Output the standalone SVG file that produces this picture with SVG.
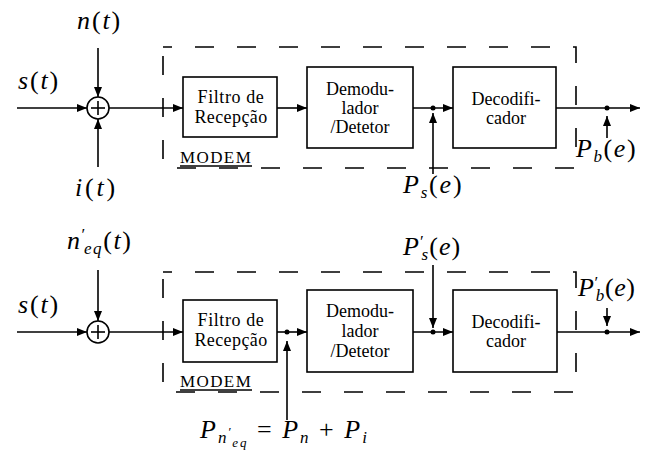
<svg xmlns="http://www.w3.org/2000/svg" width="645" height="454" viewBox="0 0 645 454" font-family="Liberation Serif, serif">
<style>
.bg{fill:#fff}
.box{fill:none;stroke:#000;stroke-width:1.6}
.dash{fill:none;stroke:#000;stroke-width:1.6;stroke-dasharray:19 23;stroke-dashoffset:10}
.ln{fill:none;stroke:#000;stroke-width:1.6}
.arr{fill:none;stroke:#000;stroke-width:1.6;marker-end:url(#ah)}
.dot{fill:#000}
.t{font-size:18px;fill:#000;text-anchor:middle}
.mdm{font-size:17px;fill:#000}
.m{font-size:26px;font-style:italic;fill:#000}
.u{font-style:normal}
.s{font-size:17px}
.ss{font-size:13px}
</style>
<defs>
<marker id="ah" markerUnits="userSpaceOnUse" markerWidth="10" markerHeight="8" refX="10" refY="4" orient="auto">
<path d="M0,0 L10,4 L0,8 z" fill="#000"/>
</marker>
</defs>
<rect class="bg" x="0" y="0" width="645" height="454"/>

<!-- ===== Top diagram ===== -->
<g id="modem1">
<rect class="dash" x="163" y="47" width="413" height="121"/>
<text class="mdm" style="font-family:'Liberation Serif',serif" x="180" y="163" letter-spacing="1.4">MODEM</text>
<line class="ln" x1="180" y1="166" x2="252" y2="166" stroke-width="1.3"/>
</g>
<g id="sum1">
<circle class="box" cx="98" cy="108" r="11"/>
<line class="ln" x1="91" y1="108" x2="105" y2="108"/>
<line class="ln" x1="98" y1="101" x2="98" y2="115"/>
</g>
<g id="filtro1">
<rect class="box" x="183" y="77" width="94" height="60"/>
<text class="t" style="font-family:'Liberation Serif',serif" x="231" y="103" letter-spacing="0.6">Filtro de</text>
<text class="t" style="font-family:'Liberation Serif',serif" x="231" y="123" letter-spacing="0.4">Recepção</text>
</g>
<g id="demod1">
<rect class="box" x="307" y="67" width="106" height="81"/>
<text class="t" style="font-family:'Liberation Serif',serif" x="360" y="95">Demodu-</text>
<text class="t" style="font-family:'Liberation Serif',serif" x="360" y="114">lador</text>
<text class="t" style="font-family:'Liberation Serif',serif" x="360" y="133">/Detetor</text>
</g>
<g id="decod1">
<rect class="box" x="453" y="67" width="103" height="81"/>
<text class="t" style="font-family:'Liberation Serif',serif" x="506" y="105">Decodifi-</text>
<text class="t" style="font-family:'Liberation Serif',serif" x="506" y="124">cador</text>
</g>
<g id="label-s1"><text class="m" style="font-family:'Liberation Serif',serif" x="18" y="89" letter-spacing="1.8">s<tspan class="u">(</tspan>t<tspan class="u">)</tspan></text></g>
<g id="label-n1"><text class="m" style="font-family:'Liberation Serif',serif" x="77" y="29" letter-spacing="1.9">n<tspan class="u">(</tspan>t<tspan class="u">)</tspan></text></g>
<g id="label-i1"><text class="m" style="font-family:'Liberation Serif',serif" x="75" y="196" letter-spacing="2.8">i<tspan class="u">(</tspan>t<tspan class="u">)</tspan></text></g>
<g id="label-ps1"><text class="m" style="font-family:'Liberation Serif',serif" x="403" y="193" letter-spacing="1.8">P<tspan class="s" dy="5">s</tspan><tspan class="u" dy="-5">(</tspan>e<tspan class="u">)</tspan></text></g>
<g id="label-pb1"><text class="m" style="font-family:'Liberation Serif',serif" x="576" y="157" letter-spacing="1.6">P<tspan class="s" dy="5">b</tspan><tspan class="u" dy="-5">(</tspan>e<tspan class="u">)</tspan></text></g>

<!-- ===== Bottom diagram ===== -->
<g id="modem2">
<rect class="dash" x="163" y="272" width="413" height="120"/>
<text class="mdm" style="font-family:'Liberation Serif',serif" x="180" y="387" letter-spacing="1.4">MODEM</text>
<line class="ln" x1="180" y1="390" x2="252" y2="390" stroke-width="1.3"/>
</g>
<g id="sum2">
<circle class="box" cx="98" cy="332" r="11"/>
<line class="ln" x1="91" y1="332" x2="105" y2="332"/>
<line class="ln" x1="98" y1="325" x2="98" y2="339"/>
</g>
<g id="filtro2">
<rect class="box" x="183" y="300" width="94" height="62"/>
<text class="t" style="font-family:'Liberation Serif',serif" x="231" y="326" letter-spacing="0.6">Filtro de</text>
<text class="t" style="font-family:'Liberation Serif',serif" x="231" y="346" letter-spacing="0.4">Recepção</text>
</g>
<g id="demod2">
<rect class="box" x="307" y="290" width="106" height="82"/>
<text class="t" style="font-family:'Liberation Serif',serif" x="360" y="317">Demodu-</text>
<text class="t" style="font-family:'Liberation Serif',serif" x="360" y="337">lador</text>
<text class="t" style="font-family:'Liberation Serif',serif" x="360" y="357">/Detetor</text>
</g>
<g id="decod2">
<rect class="box" x="453" y="290" width="104" height="82"/>
<text class="t" style="font-family:'Liberation Serif',serif" x="506" y="328">Decodifi-</text>
<text class="t" style="font-family:'Liberation Serif',serif" x="506" y="347">cador</text>
</g>
<g id="label-s2"><text class="m" style="font-family:'Liberation Serif',serif" x="18" y="313" letter-spacing="1.8">s<tspan class="u">(</tspan>t<tspan class="u">)</tspan></text></g>
<g id="label-neq"><text class="m" style="font-family:'Liberation Serif',serif" x="67" y="249" letter-spacing="1.6">n<tspan class="s u" dy="-9">′</tspan><tspan class="s" dx="-3" dy="14">eq</tspan><tspan class="u" dy="-5">(</tspan>t<tspan class="u">)</tspan></text></g>
<g id="label-ps2"><text class="m" style="font-family:'Liberation Serif',serif" x="403" y="255" letter-spacing="1">P<tspan class="s u" dy="-8">′</tspan><tspan class="s" dx="-3" dy="13">s</tspan><tspan class="u" dy="-5">(</tspan>e<tspan class="u">)</tspan></text></g>
<g id="label-pb2"><text class="m" style="font-family:'Liberation Serif',serif" x="578" y="296" letter-spacing="0.6">P<tspan class="s u" dy="-8">′</tspan><tspan class="s" dx="-3" dy="13">b</tspan><tspan class="u" dy="-5">(</tspan>e<tspan class="u">)</tspan></text></g>
<g id="label-pneq"><text class="m" style="font-family:'Liberation Serif',serif" x="200" y="438" letter-spacing="2">P<tspan class="s" dy="5">n</tspan><tspan class="ss u" dy="-7">′</tspan><tspan class="ss" dx="-1" dy="11">eq</tspan><tspan class="u" dy="-9"> = </tspan>P<tspan class="s" dy="5">n</tspan><tspan class="u" dy="-5"> + </tspan>P<tspan class="s" dy="5">i</tspan></text></g>

<!-- ===== Connectors ===== -->
<g id="connectors">
<line class="arr" x1="17" y1="108" x2="87" y2="108"/>
<line class="arr" x1="98" y1="48" x2="98" y2="97"/>
<line class="arr" x1="98" y1="167" x2="98" y2="119"/>
<line class="arr" x1="109" y1="108" x2="183" y2="108"/>
<line class="arr" x1="277" y1="108" x2="307" y2="108"/>
<line class="arr" x1="413" y1="108" x2="453" y2="108"/>
<circle class="dot" cx="433" cy="108" r="2.5"/>
<line class="arr" x1="433" y1="174" x2="433" y2="113"/>
<line class="arr" x1="556" y1="108" x2="640" y2="108"/>
<circle class="dot" cx="607" cy="108" r="2.5"/>
<line class="arr" x1="607" y1="138" x2="607" y2="116"/>

<line class="arr" x1="17" y1="332" x2="87" y2="332"/>
<line class="arr" x1="98" y1="270" x2="98" y2="321"/>
<line class="arr" x1="109" y1="332" x2="183" y2="332"/>
<line class="arr" x1="277" y1="332" x2="307" y2="332"/>
<circle class="dot" cx="287" cy="332" r="2.5"/>
<line class="arr" x1="287" y1="420" x2="287" y2="341"/>
<line class="arr" x1="413" y1="332" x2="453" y2="332"/>
<circle class="dot" cx="433" cy="332" r="2.5"/>
<line class="arr" x1="433" y1="265" x2="433" y2="328"/>
<line class="arr" x1="557" y1="332" x2="640" y2="332"/>
<circle class="dot" cx="607" cy="332" r="2.5"/>
<line class="arr" x1="607" y1="308" x2="607" y2="326"/>
</g>
</svg>
